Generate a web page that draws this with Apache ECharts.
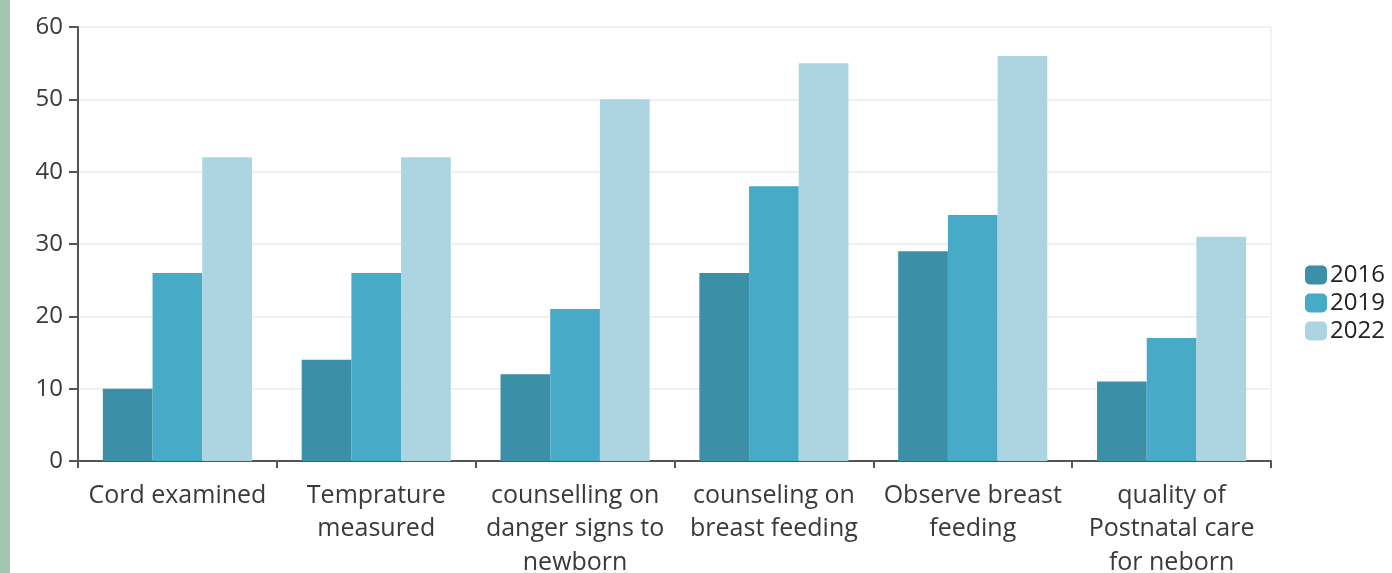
<!DOCTYPE html>
<html>
<head>
<meta charset="utf-8">
<script src="https://cdn.jsdelivr.net/npm/echarts@6/dist/echarts.min.js"></script>
<style>
  html, body { margin: 0; padding: 0; background: #fff; }
  #chart { width: 1392px; height: 573px; }
</style>
</head>
<body>
<div id="chart"></div>
<script>
// categories and values
var categories = [
  'Cord examined',
  'Temprature\nmeasured',
  'counselling on\ndanger signs to\nnewborn',
  'counseling on\nbreast feeding',
  'Observe breast\nfeeding',
  'quality of\nPostnatal care\nfor neborn'
];
var years = ['2016', '2019', '2022'];
var values2016 = [10, 14, 12, 26, 29, 11];
var values2019 = [26, 26, 21, 38, 34, 17];
var values2022 = [42, 42, 50, 55, 56, 31];
var colors = ['#3b8fa6', '#47abc8', '#acd5e1'];

var myChart = echarts.init(document.getElementById('chart'));

var options = {
  animation: false,
  color: colors,
  textStyle: { fontFamily: 'Open Sans' },
  graphic: [
    {
      type: 'rect',
      left: 0,
      top: 0,
      shape: { width: 10, height: 573 },
      style: { fill: '#a4c5af' }
    }
  ],
  legend: {
    orient: 'vertical',
    left: 1300,
    top: 258,
    itemWidth: 22,
    itemHeight: 19,
    itemGap: 4,
    textStyle: { fontSize: 24, lineHeight: 19, color: '#222', padding: [0, 0, 0, -2] },
    data: years
  },
  grid: {
    left: 78,
    top: 27,
    right: 121,
    bottom: 112,
    containLabel: false,
    outerBoundsMode: 'none',
    show: true,
    borderColor: '#e6e6e6',
    borderWidth: 1
  },
  xAxis: {
    type: 'category',
    data: categories,
    axisLine: { lineStyle: { color: '#555', width: 2 } },
    axisTick: { show: true, length: 7, lineStyle: { color: '#555', width: 2 } },
    axisLabel: {
      interval: 0,
      fontSize: 25,
      color: '#3a3a3a',
      lineHeight: 33.5,
      margin: 18
    }
  },
  yAxis: {
    type: 'value',
    min: 0,
    max: 60,
    interval: 10,
    axisLine: { show: true, lineStyle: { color: '#555', width: 2 } },
    axisTick: { show: true, length: 9, lineStyle: { color: '#555', width: 2 } },
    axisLabel: { fontSize: 24, color: '#3a3a3a', margin: 15 },
    splitLine: { lineStyle: { color: '#f0f0f0', width: 2 } }
  },
  series: [
    { name: years[0], type: 'bar', barGap: '0%', barCategoryGap: '25%', data: values2016 },
    { name: years[1], type: 'bar', barGap: '0%', barCategoryGap: '25%', data: values2019 },
    { name: years[2], type: 'bar', barGap: '0%', barCategoryGap: '25%', data: values2022 }
  ]
};

myChart.setOption(options);
</script>
</body>
</html>
